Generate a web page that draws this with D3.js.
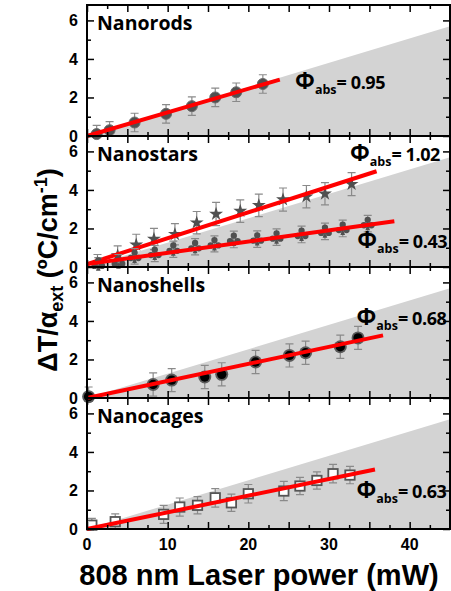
<!DOCTYPE html>
<html>
<head>
<meta charset="utf-8">
<script src="https://cdn.jsdelivr.net/npm/d3@7"></script>
<style>
  body { margin: 0; background: #fff; }
  svg { display: block; }
</style>
</head>
<body>
<div class="canvas"></div>
<script>
// ---------- data ----------
const panelNames = ['Nanorods', 'Nanostars', 'Nanoshells', 'Nanocages'];
const xTicks = [0, 10, 20, 30, 40];
const yTicks = [0, 2, 4, 6];
const shadeEnd = [45, 5.7]; // grey wedge from origin to this point

// nanorods (circles)
const rodsX = [1.2, 2.8, 5.9, 9.8, 13.0, 15.9, 18.5, 21.8];
const rodsY = [0.1, 0.3, 0.7, 1.15, 1.55, 2.0, 2.27, 2.7];
const rodsErr = [0.45, 0.45, 0.48, 0.48, 0.48, 0.48, 0.48, 0.48];
const rodsFit = [[0, 0], [23.9, 2.93]];

// nanostars, star markers
const starsX = [1.3, 3.8, 6.1, 8.3, 10.9, 13.6, 16.0, 19.0, 21.3, 24.3, 27.2, 29.5, 32.8];
const starsY = [0.2, 0.6, 1.15, 1.45, 1.7, 2.3, 2.75, 2.9, 3.2, 3.5, 3.65, 3.8, 4.3];
const starsErr = [0.45, 0.5, 0.55, 0.55, 0.55, 0.58, 0.6, 0.58, 0.58, 0.6, 0.58, 0.58, 0.6];
const starsFit = [[0, 0.15], [35.9, 4.97]];

// nanostars, club markers
const clubsX = [1.4, 3.9, 5.9, 8.4, 10.7, 13.4, 15.8, 18.2, 21.1, 23.5, 26.6, 29.5, 31.7, 34.8];
const clubsY = [0.14, 0.25, 0.55, 0.7, 0.92, 1.05, 1.2, 1.43, 1.45, 1.55, 1.69, 1.85, 2.0, 2.25];
const clubsErr = [0.35, 0.4, 0.4, 0.42, 0.42, 0.42, 0.42, 0.43, 0.43, 0.43, 0.43, 0.43, 0.43, 0.43];
const clubsFit = [[0, 0.15], [38.1, 2.38]];

// nanoshells
const shellsX = [0.2, 8.2, 10.5, 14.6, 16.7, 20.9, 25.1, 27.1, 31.4, 33.6];
const shellsY = [0.07, 0.7, 0.93, 1.09, 1.23, 1.87, 2.21, 2.35, 2.66, 3.12];
const shellsErr = [0.5, 0.6, 0.6, 0.6, 0.6, 0.6, 0.6, 0.6, 0.6, 0.6];
const shellsFit = [[0, 0], [36.7, 3.25]];

// nanocages (open squares)
const cagesX = [0.6, 3.5, 9.5, 11.5, 13.7, 15.9, 17.9, 20.0, 24.4, 26.4, 28.5, 30.5, 32.6];
const cagesY = [0.2, 0.38, 0.76, 1.14, 1.23, 1.62, 1.36, 1.83, 1.97, 2.23, 2.52, 2.87, 2.8];
const cagesErr = [0.35, 0.4, 0.47, 0.47, 0.45, 0.48, 0.45, 0.48, 0.5, 0.45, 0.45, 0.48, 0.45];
const cagesFit = [[0, 0], [35.7, 3.09]];

// absorption efficiency labels
const phiValues = ['0.95', '1.02', '0.43', '0.68', '0.63'];

// ---------- layout ----------
const width = 451, height = 591;
const plotLeft = 87, plotRight = 450;
const plotTop = 5, panelH = 131;

const svg = d3.select('.canvas')
  .append('svg')
  .attr('width', width)
  .attr('height', height);

const x = d3.scaleLinear().domain([0, 45]).range([plotLeft, plotRight]);

const zip = (xs, ys, es) => xs.map((v, i) => ({ x: v, y: ys[i], e: es[i] }));

// club marker path
const clubPath = s => {
  const r = s * 0.3, c = s * 0.36;
  const circ = (cx, cy) => `M${cx + r},${cy}A${r},${r} 0 1,1 ${cx - r},${cy}A${r},${r} 0 1,1 ${cx + r},${cy}Z`;
  return circ(0, -c) + circ(-c, s * 0.15) + circ(c, s * 0.15) +
    `M0,0L${-s * 0.22},${s * 0.62}L${s * 0.22},${s * 0.62}Z`;
};

const panels = [
  { name: panelNames[0], series: [{ pts: zip(rodsX, rodsY, rodsErr), fit: rodsFit, marker: 'circle' }],
    phis: [{ v: phiValues[0], at: [25.8, 2.43] }] },
  { name: panelNames[1], series: [
      { pts: zip(starsX, starsY, starsErr), fit: starsFit, marker: 'star' },
      { pts: zip(clubsX, clubsY, clubsErr), fit: clubsFit, marker: 'club' }],
    phis: [{ v: phiValues[1], at: [32.6, 5.48] }, { v: phiValues[2], at: [33.5, 0.98] }] },
  { name: panelNames[2], series: [{ pts: zip(shellsX, shellsY, shellsErr), fit: shellsFit, marker: 'shell' }],
    phis: [{ v: phiValues[3], at: [33.4, 3.78] }] },
  { name: panelNames[3], series: [{ pts: zip(cagesX, cagesY, cagesErr), fit: cagesFit, marker: 'square' }],
    phis: [{ v: phiValues[4], at: [33.4, 1.6] }] }
];

const labelFont = "'Open Sans', 'DejaVu Sans', sans-serif";
const axisFont = "'Liberation Sans', Arial, sans-serif";

panels.forEach((p, i) => {
  const y0 = plotTop + i * panelH;
  const y = d3.scaleLinear().domain([0, 6.8]).range([y0 + panelH, y0]);
  const g = svg.append('g');

  // grey wedge
  g.append('path')
    .attr('d', d3.line().x(d => x(d[0])).y(d => y(d[1]))([[0, 0], shadeEnd, [45, 0]]) + 'Z')
    .attr('fill', '#d3d3d3');

  p.series.forEach(s => {
    // error bars
    const eb = g.append('g').attr('stroke', '#8a8a8a').attr('stroke-width', 1.2).attr('fill', 'none');
    eb.selectAll('path').data(s.pts).enter().append('path')
      .attr('d', d => {
        const px = x(d.x), a = y(d.y + d.e), b = y(Math.max(d.y - d.e, 0));
        return `M${px},${a}V${b}M${px - 4},${a}H${px + 4}M${px - 4},${b}H${px + 4}`;
      });

    // markers
    const m = g.append('g');
    const pts = m.selectAll('g').data(s.pts).enter().append('g')
      .attr('transform', d => `translate(${x(d.x)},${y(d.y)})`);
    if (s.marker === 'circle') {
      pts.append('circle').attr('r', 5.5).attr('fill', '#505050').attr('stroke', '#6a6a6a').attr('stroke-width', 1);
    } else if (s.marker === 'star') {
      pts.append('path').attr('d', d3.symbol(d3.symbolStar, 60)()).attr('fill', '#505050');
    } else if (s.marker === 'club') {
      pts.append('path').attr('d', clubPath(10.5)).attr('fill', '#505050');
    } else if (s.marker === 'shell') {
      pts.append('circle').attr('r', 6.5).attr('fill', '#5a5a5a');
      pts.append('circle').attr('r', 4.7).attr('fill', '#000');
    } else if (s.marker === 'square') {
      pts.append('rect').attr('x', -4.7).attr('y', -4.7).attr('width', 9.4).attr('height', 9.4)
        .attr('fill', '#fff').attr('stroke', '#555').attr('stroke-width', 1.8);
    }

    // linear fit
    g.append('path')
      .attr('d', d3.line().x(d => x(d[0])).y(d => y(d[1]))(s.fit))
      .attr('stroke', '#ff0000').attr('stroke-width', 4).attr('fill', 'none');
  });

  // panel name
  g.append('text')
    .attr('x', 97).attr('y', y0 + 25)
    .attr('font-family', labelFont).attr('font-weight', 700).attr('font-size', 19.5)
    .text(p.name);

  // Phi labels
  p.phis.forEach(ph => {
    const t = g.append('text')
      .attr('x', x(ph.at[0])).attr('y', y(ph.at[1]))
      .attr('font-family', labelFont).attr('font-weight', 700).attr('font-size', 18);
    t.append('tspan').attr('font-size', 23).text('Φ');
    t.append('tspan').attr('font-size', 12.5).attr('dy', 5).text('abs');
    t.append('tspan').attr('dy', -5).attr('letter-spacing', -0.4).text('= ' + ph.v);
  });

  // ticks, pointing inward on all sides
  const minorX = d3.range(0, 45.01, 2.5).filter(v => v % 5 !== 0);
  const majorX = d3.range(0, 45.01, 5);
  const minorY = [1, 3, 5];
  const tickGroups = [
    [d3.axisBottom(x).tickValues(majorX).tickSize(-7), `translate(0,${y0 + panelH})`],
    [d3.axisBottom(x).tickValues(minorX).tickSize(-4), `translate(0,${y0 + panelH})`],
    [d3.axisTop(x).tickValues(majorX).tickSize(-7), `translate(0,${y0})`],
    [d3.axisTop(x).tickValues(minorX).tickSize(-4), `translate(0,${y0})`],
    [d3.axisLeft(y).tickValues(yTicks).tickSize(-7), `translate(${plotLeft},0)`],
    [d3.axisLeft(y).tickValues(minorY).tickSize(-4), `translate(${plotLeft},0)`],
    [d3.axisRight(y).tickValues(yTicks).tickSize(-7), `translate(${plotRight},0)`],
    [d3.axisRight(y).tickValues(minorY).tickSize(-4), `translate(${plotRight},0)`]
  ];
  tickGroups.forEach(([ax, tr]) => {
    const a = g.append('g').attr('transform', tr).call(ax.tickFormat(''));
    a.select('.domain').remove();
    a.selectAll('line').attr('stroke', '#000').attr('stroke-width', 1.5);
  });

  // y tick labels
  g.append('g').selectAll('text').data(yTicks).enter().append('text')
    .attr('x', 78).attr('y', d => y(d)).attr('dy', '0.36em')
    .attr('text-anchor', 'end')
    .attr('font-family', axisFont).attr('font-weight', 700).attr('font-size', 16)
    .text(d => d);

  // frame
  g.append('rect')
    .attr('x', plotLeft).attr('y', y0).attr('width', plotRight - plotLeft).attr('height', panelH)
    .attr('fill', 'none').attr('stroke', '#000').attr('stroke-width', 2);
});

// x tick labels
svg.append('g').selectAll('text').data(xTicks).enter().append('text')
  .attr('x', d => x(d)).attr('y', 550)
  .attr('text-anchor', 'middle')
  .attr('font-family', axisFont).attr('font-weight', 700).attr('font-size', 16)
  .text(d => d);

// x title
svg.append('text')
  .attr('x', 259).attr('y', 585)
  .attr('text-anchor', 'middle')
  .attr('font-family', axisFont).attr('font-weight', 700).attr('font-size', 29)
  .text('808 nm Laser power (mW)');

// y title
const yt = svg.append('text')
  .attr('transform', 'translate(57,270) rotate(-90)')
  .attr('text-anchor', 'middle')
  .attr('font-family', axisFont).attr('font-weight', 700).attr('font-size', 27);
yt.append('tspan').text('ΔT/α');
yt.append('tspan').attr('font-size', 18).attr('dy', 6).text('ext');
yt.append('tspan').attr('dy', -6).text(' (ºC/cm');
yt.append('tspan').attr('font-size', 18).attr('dy', -10).text('-1');
yt.append('tspan').attr('dy', 10).text(')');
</script>
</body>
</html>
